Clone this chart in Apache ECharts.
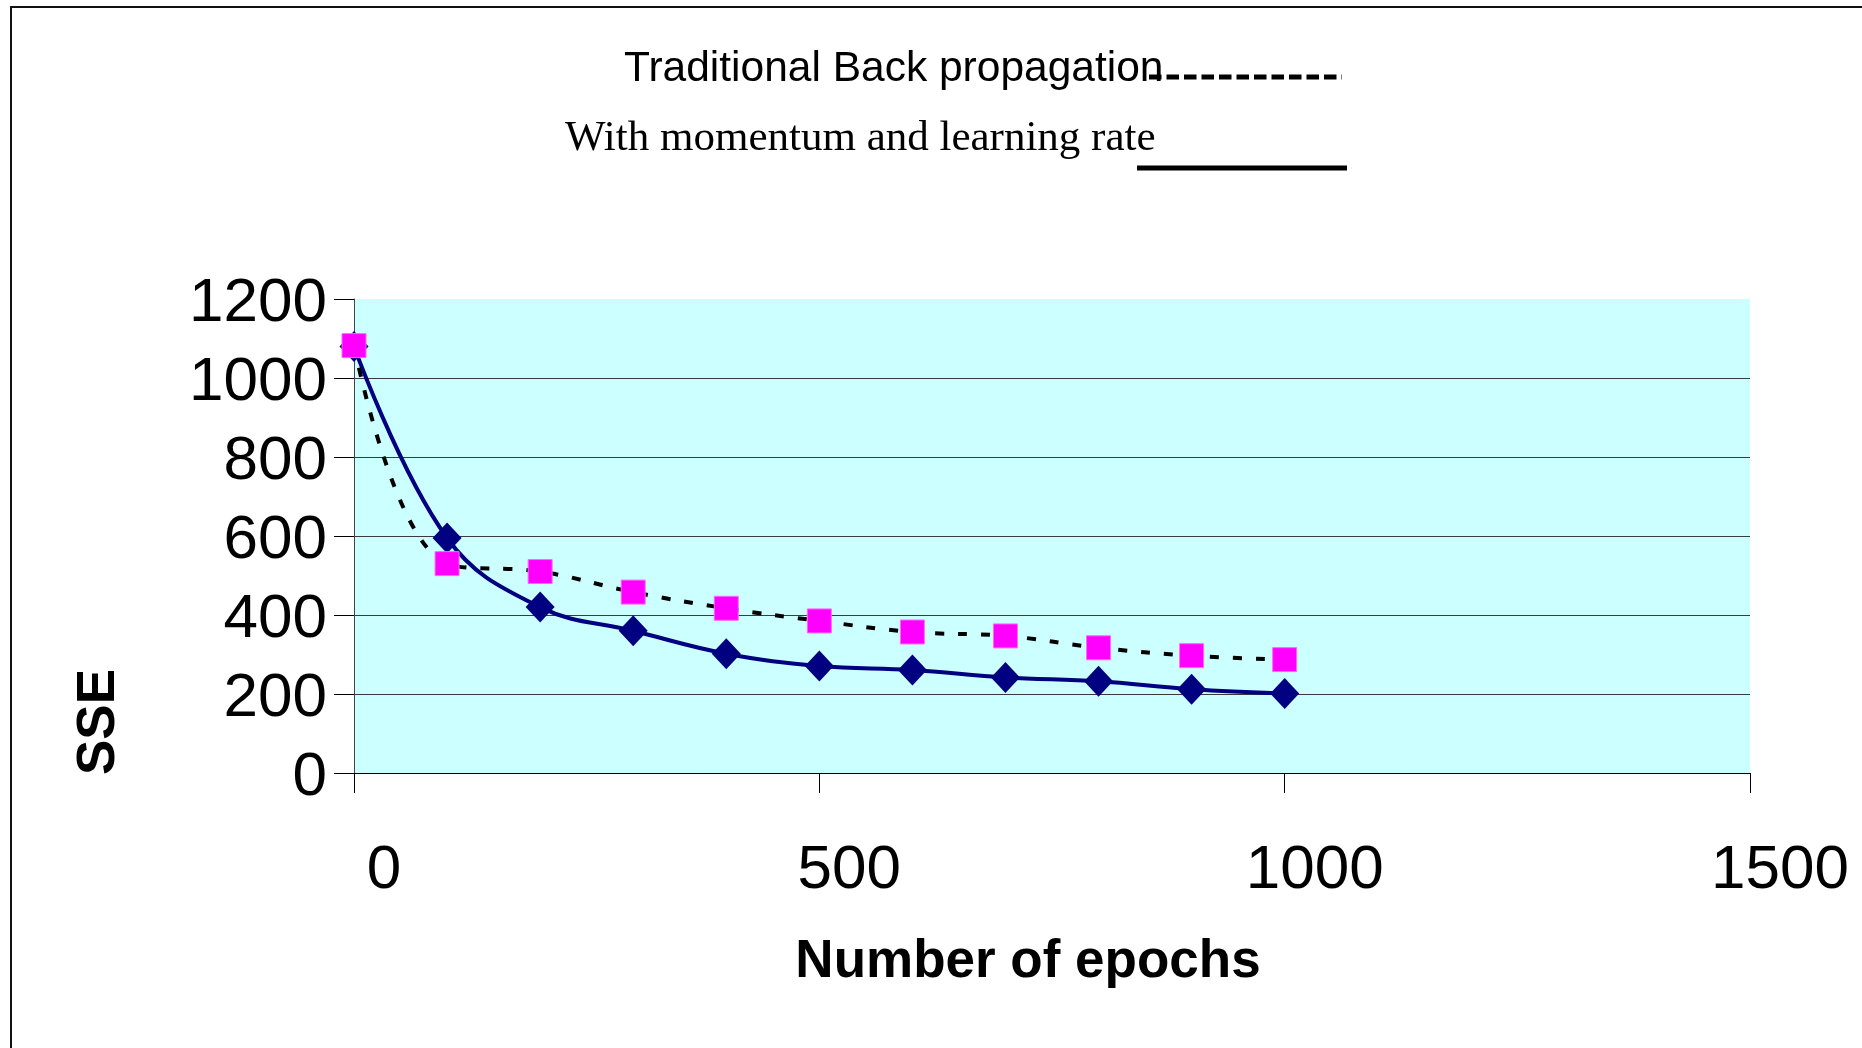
<!DOCTYPE html>
<html>
<head>
<meta charset="utf-8">
<script src="https://cdn.jsdelivr.net/npm/echarts@6/dist/echarts.min.js"></script>
<style>
html,body{margin:0;padding:0;background:#fff;}
#chart{width:1862px;height:1048px;}
</style>
</head>
<body>
<div id="chart"></div>
<script>
const epochs = [0, 100, 200, 300, 400, 500, 600, 700, 800, 900, 1000];
const sseMomentum = [1080, 595, 420, 360, 302, 271, 261, 242, 232, 212, 201];
const sseTraditional = [1082, 530, 510, 458, 417, 385, 357, 347, 317, 297, 287];
const yTicks = [0, 200, 400, 600, 800, 1000, 1200];
const xTicks = [0, 500, 1000, 1500];
const legendLabels = ['Traditional Back propagation', 'With momentum and learning rate'];
const xAxisTitle = 'Number of epochs';
const yAxisTitle = 'SSE';

const SANS = "'Liberation Sans', Arial, sans-serif";
const SERIF = "'Liberation Serif', 'Times New Roman', serif";

const chart = echarts.init(document.getElementById('chart'));

const gridColors = yTicks.map((v, i) => i === yTicks.length - 1 ? 'rgba(0,0,0,0)' : '#3a3a3a');

const option = {
  animation: false,
  backgroundColor: '#ffffff',
  grid: {
    left: 354, right: 112, top: 299, bottom: 275,
    show: true, backgroundColor: '#CCFFFF', borderWidth: 0
  },
  xAxis: {
    type: 'value',
    min: xTicks[0], max: xTicks[xTicks.length - 1], interval: 500,
    axisLine: { show: true, onZero: false, lineStyle: { color: '#000', width: 1 } },
    axisTick: { show: true, length: 20, inside: false, lineStyle: { color: '#000', width: 1 } },
    splitLine: { show: false },
    axisLabel: {
      fontSize: 62, fontFamily: SANS, color: '#000', margin: 67,
      padding: [0, 0, 0, 60],
      formatter: v => String(v)
    }
  },
  yAxis: {
    type: 'value',
    min: yTicks[0], max: yTicks[yTicks.length - 1], interval: 200,
    axisLine: { show: true, lineStyle: { color: '#444', width: 1 } },
    axisTick: { show: true, length: 20, inside: false, lineStyle: { color: '#000', width: 1 } },
    splitLine: { show: true, lineStyle: { color: gridColors, width: 1 } },
    axisLabel: { color: '#000', margin: 27,
      formatter: v => '{t|' + v + '}',
      rich: { t: { fontSize: 62, fontFamily: SANS, color: '#000', padding: [10, 0, 0, 0] } } }
  },
  graphic: [
    { type: 'rect', shape: { x: 11, y: 7, width: 1900, height: 1100 },
      style: { fill: 'none', stroke: '#111', lineWidth: 2 }, z: 100 },
    { type: 'text', x: 624, y: 69,
      style: { text: legendLabels[0], font: '42.5px ' + SANS, fill: '#000',
               textAlign: 'left', textVerticalAlign: 'middle', align: 'left', verticalAlign: 'middle' } },
    { type: 'line', shape: { x1: 1149, y1: 77, x2: 1342, y2: 77 },
      style: { stroke: '#000', lineWidth: 5, lineDash: [12.5, 5] } },
    { type: 'text', x: 565, y: 139,
      style: { text: legendLabels[1], font: '43px ' + SERIF, fill: '#000',
               textAlign: 'left', textVerticalAlign: 'middle', align: 'left', verticalAlign: 'middle' } },
    { type: 'line', shape: { x1: 1137, y1: 168, x2: 1347, y2: 168 },
      style: { stroke: '#000', lineWidth: 5 } },
    { type: 'text', x: 1028, y: 962,
      style: { text: xAxisTitle, font: 'bold 53px ' + SANS, fill: '#000',
               textAlign: 'center', textVerticalAlign: 'middle', align: 'center', verticalAlign: 'middle' } },
    { type: 'text', x: 99, y: 722, rotation: Math.PI / 2,
      style: { text: yAxisTitle, font: 'bold 53px ' + SANS, fill: '#000',
               textAlign: 'center', textVerticalAlign: 'middle', align: 'center', verticalAlign: 'middle' } }
  ],
  series: [
    {
      name: legendLabels[1], type: 'line',
      data: epochs.map((x, i) => [x, sseMomentum[i]]),
      smooth: 0.4,
      symbol: 'diamond', symbolSize: [29, 31],
      itemStyle: { color: '#000080' },
      lineStyle: { color: '#000080', width: 4 },
      z: 3
    },
    {
      name: legendLabels[0], type: 'line',
      data: epochs.map((x, i) => [x, sseTraditional[i]]),
      smooth: 0.4,
      symbol: 'rect', symbolSize: 24,
      itemStyle: { color: '#FF00FF', borderColor: '#FF66FF', borderWidth: 1 },
      lineStyle: { color: '#000', width: 4, type: [9, 14] },
      z: 4
    }
  ]
};
chart.setOption(option);
</script>
</body>
</html>
